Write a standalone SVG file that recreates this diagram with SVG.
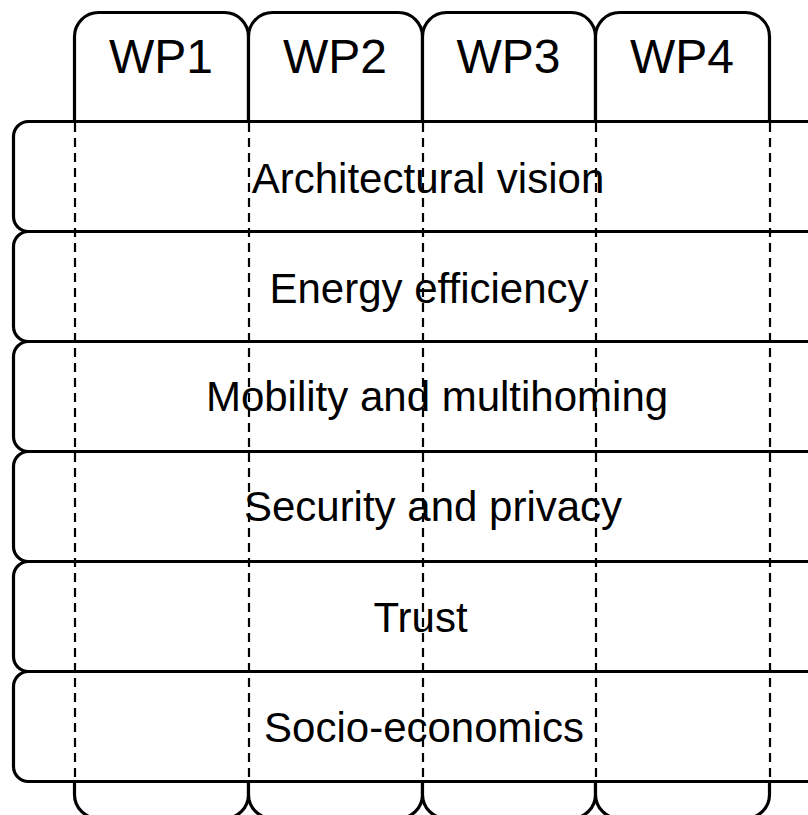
<svg xmlns="http://www.w3.org/2000/svg" width="808" height="815" viewBox="0 0 808 815">
<style>
.col{fill:#fff;stroke:#000;stroke-width:3.2}
.row{fill:#fff;stroke:#000;stroke-width:3.2}
.dash{stroke:#000;stroke-width:2.2;stroke-dasharray:9,6;fill:none}
text{font-family:"Liberation Sans",Arial,sans-serif;fill:#000;text-anchor:middle}
.wp{font-size:48px}
.lbl{font-size:42px}
</style>
<rect width="808" height="815" fill="#fff"/>
<g id="wp1"><rect class="col" x="74.5" y="12.5" width="174" height="806" rx="24"/><text class="wp" x="161" y="73">WP1</text></g>
<g id="wp2"><rect class="col" x="248.5" y="12.5" width="174" height="806" rx="24"/><text class="wp" x="335" y="73">WP2</text></g>
<g id="wp3"><rect class="col" x="422.5" y="12.5" width="173" height="806" rx="24"/><text class="wp" x="508.5" y="73">WP3</text></g>
<g id="wp4"><rect class="col" x="595.5" y="12.5" width="174" height="806" rx="24"/><text class="wp" x="682" y="73">WP4</text></g>
<g id="r1"><rect class="row" x="13.5" y="121.5" width="810" height="110" rx="15"/></g>
<g id="r2"><rect class="row" x="13.5" y="231.5" width="810" height="110" rx="15"/></g>
<g id="r3"><rect class="row" x="13.5" y="341.5" width="810" height="110" rx="15"/></g>
<g id="r4"><rect class="row" x="13.5" y="451.5" width="810" height="110" rx="15"/></g>
<g id="r5"><rect class="row" x="13.5" y="561.5" width="810" height="110" rx="15"/></g>
<g id="r6"><rect class="row" x="13.5" y="671.5" width="810" height="110" rx="15"/></g>
<g id="connectors">
<line class="dash" x1="75" y1="123" x2="75" y2="780"/>
<line class="dash" x1="249" y1="123" x2="249" y2="780"/>
<line class="dash" x1="423" y1="123" x2="423" y2="780"/>
<line class="dash" x1="596" y1="123" x2="596" y2="780"/>
<line class="dash" x1="770" y1="123" x2="770" y2="780"/>
</g>
<g id="labels">
<text class="lbl" x="428" y="193">Architectural vision</text>
<text class="lbl" x="429" y="303">Energy efficiency</text>
<text class="lbl" x="437" y="411">Mobility and multihoming</text>
<text class="lbl" x="433" y="521">Security and privacy</text>
<text class="lbl" x="420.5" y="632">Trust</text>
<text class="lbl" x="424" y="742">Socio-economics</text>
</g>
</svg>
